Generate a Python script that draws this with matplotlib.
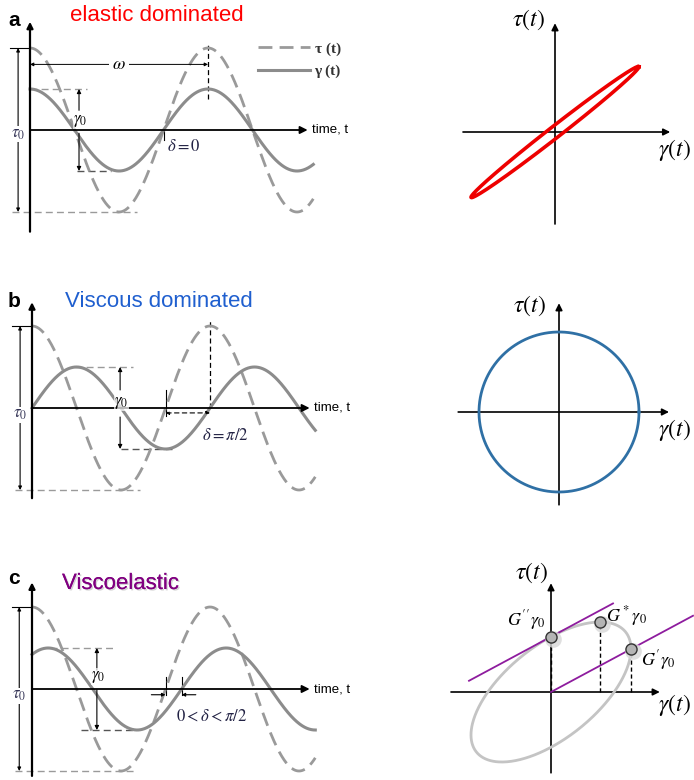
import numpy as np
import matplotlib
matplotlib.use('Agg')
import matplotlib.pyplot as plt
import matplotlib.patheffects as pe

plt.rcParams['mathtext.fontset'] = 'stix'
plt.rcParams['font.family'] = ['Liberation Sans', 'DejaVu Sans']

W, H = 694, 780
fig = plt.figure(figsize=(W / 100, H / 100), dpi=100)

# ---------------- data ----------------
panel_letters = ['a', 'b', 'c']
panel_titles = ['elastic dominated', 'Viscous dominated', 'Viscoelastic']
title_colors = ['#ff0000', '#1f5fcf', '#800080']
tau0 = 1.0            # stress amplitude
gamma0 = 0.5          # strain amplitude
phase_lag = [0.0, np.pi / 2, 0.57]       # delta used in the time traces
delta_labels = [r'$\delta = 0$', r'$\delta = \pi/2$', r'$0 < \delta < \pi/2$']
t_end = 10.0
series_labels = ['τ (t)', 'γ (t)']

loop_gamma_amp = [1.05, 1.0, 1.0]
loop_tau_amp = [0.82, 1.0, 0.875]
loop_delta = [0.11, np.pi / 2, 0.91]
loop_colors = ['#ee0000', '#2f70a5', '#c4c4c4']
modulus_labels = [r"$G''\gamma_0$", r"$G^*\gamma_0$", r"$G'\gamma_0$"]

# ---------------- layout helpers ----------------
SX, SY = 28.33, 82.0   # px per unit (time, amplitude) in the left panels
RS = 80.0              # px per unit in the right panels


def add_panel(box, origin, sx, sy):
    x0, y0, x1, y1 = box
    ax = fig.add_axes([x0 / W, 1 - y1 / H, (x1 - x0) / W, (y1 - y0) / H])
    ox, oy = origin
    ax.set_xlim((x0 - ox) / sx, (x1 - ox) / sx)
    ax.set_ylim((oy - y1) / sy, (oy - y0) / sy)
    ax.axis('off')
    return ax


def arrow(ax, start, end, style='-|>', lw=1.5, ms=10, ls='-', color='k'):
    ax.annotate('', xy=end, xytext=start,
                arrowprops=dict(arrowstyle=style, lw=lw, color=color, linestyle=ls,
                                shrinkA=0, shrinkB=0, mutation_scale=ms))


left_layout = [
    dict(box=(0, 0, 350, 250), origin=(30, 130), yax=(-1.24, 1.32), tau_t=-0.42, tau_lbl=-0.05,
         bot_dash=(-0.64, 3.78), g_t=1.73, g_top=(0.0, 2.0), g_bot=(1.66, 2.86),
         g_up=0.24, g_lbl=0.11, g_low=-0.04, d_lbl=(4.85, -0.19), d_ha='left'),
    dict(box=(0, 280, 350, 520), origin=(32, 408), yax=(-1.10, 1.29), tau_t=-0.42, tau_lbl=-0.085,
         bot_dash=(-0.6, 3.81), g_t=3.11, g_top=(1.52, 3.57), g_bot=(3.14, 4.94),
         g_up=0.22, g_lbl=0.06, g_low=-0.11, d_lbl=(6.81, -0.33), d_ha='center'),
    dict(box=(0, 560, 350, 780), origin=(32, 689), yax=(-1.06, 1.30), tau_t=-0.45, tau_lbl=-0.085,
         bot_dash=(-0.6, 3.71), g_t=2.29, g_top=(0.64, 2.97), g_bot=(1.73, 3.6),
         g_up=0.23, g_lbl=0.15, g_low=-0.01, d_lbl=(6.35, -0.32), d_ha='center'),
]
letter_pos = [(8, 26), (8, 307), (8, 584)]
title_pos = [(70, 21), (65, 307), (62, 589)]

serif = ['Liberation Serif', 'DejaVu Serif']
gray_solid = '#8c8c8c'
gray_dash = '#9a9a9a'

for i in range(3):
    L = left_layout[i]
    ax = add_panel(L['box'], L['origin'], SX, SY)
    t = np.linspace(0, t_end, 600)
    stress = tau0 * np.cos(t)
    strain = gamma0 * np.cos(t - phase_lag[i])
    l1, = ax.plot(t, stress, color=gray_dash, lw=2.0, dashes=(5, 2.6), zorder=3,
                  label=series_labels[0])
    l2, = ax.plot(t, strain, color=gray_solid, lw=2.2, zorder=3, label=series_labels[1])

    # axes
    arrow(ax, (0, L['yax'][0]), (0, L['yax'][1]), lw=1.6, ms=9)
    arrow(ax, (0, 0), (9.8, 0), lw=1.3, ms=11)
    ax.text(9.95, 0, 'time, t', fontsize=9.5, va='center', ha='left')

    # tau0 annotation
    arrow(ax, (L['tau_t'], -tau0), (L['tau_t'], tau0), style='<|-|>', lw=0.8, ms=5)
    ax.plot([-0.72, 0], [tau0, tau0], color='k', lw=0.8)
    ax.plot(list(L['bot_dash']), [-tau0, -tau0], color=gray_dash, lw=1.0, dashes=(5, 3))
    ax.text(L['tau_t'], L['tau_lbl'], r'$\tau_0$', fontsize=12, ha='center', va='center',
            color='#333355', bbox=dict(fc='white', ec='none', pad=0.5), zorder=5)

    # gamma0 annotation
    gt = L['g_t']
    ax.plot(list(L['g_top']), [gamma0, gamma0], color=gray_dash, lw=1.0, dashes=(5, 3))
    ax.plot(list(L['g_bot']), [-gamma0, -gamma0], color='#555555', lw=1.0, dashes=(5, 3))
    arrow(ax, (gt, L['g_up']), (gt, gamma0), lw=0.8, ms=6)
    arrow(ax, (gt, L['g_low']), (gt, -gamma0), lw=0.8, ms=6)
    ax.text(gt + 0.05, L['g_lbl'], r'$\gamma_0$', fontsize=12, ha='center', va='center',
            bbox=dict(fc='white', ec='none', pad=0.2, alpha=0.7), zorder=5)

    # delta annotation
    ax.text(L['d_lbl'][0], L['d_lbl'][1], delta_labels[i], fontsize=12, ha=L['d_ha'],
            va='center', color='#222244')

    if i == 0:
        ax.plot([2 * np.pi, 2 * np.pi], [0.38, 1.06], color='k', lw=0.9, dashes=(4, 2.5))
        arrow(ax, (0, 0.80), (2 * np.pi, 0.80), style='<|-|>', lw=0.7, ms=5)
        ax.text(np.pi, 0.80, r'$\omega$', fontsize=13, ha='center', va='center',
                bbox=dict(fc='white', ec='none', pad=2), zorder=5)
        ax.plot([1.5 * np.pi, 1.5 * np.pi], [0, -0.12], color='k', lw=0.8)
        leg = ax.legend(handles=[l1, l2], loc='upper left', frameon=False, fontsize=11,
                        handlelength=3.4, handletextpad=0.3, labelspacing=0.55,
                        borderpad=0, borderaxespad=0,
                        bbox_to_anchor=(258 / W, 1 - 42 / H), bbox_transform=fig.transFigure)
        for txt in leg.get_texts():
            txt.set_family(serif)
            txt.set_fontweight('bold')
            txt.set_color('#333333')
    elif i == 1:
        ax.plot([2 * np.pi, 2 * np.pi], [0, 1.07], color='k', lw=0.9, dashes=(4, 2.5))
        ax.plot([1.5 * np.pi, 1.5 * np.pi], [0.22, -0.10], color='k', lw=0.8)
        arrow(ax, (1.5 * np.pi, -0.06), (2 * np.pi, -0.06), style='<|-|>', lw=0.8, ms=5,
              ls=(0, (4, 3)))
    else:
        t1 = 1.5 * np.pi
        t2 = 1.5 * np.pi + phase_lag[i]
        ax.plot([t1, t1], [0.15, -0.07], color='k', lw=0.8)
        ax.plot([t2, t2], [0.15, -0.07], color='k', lw=0.8)
        arrow(ax, (t1 - 0.5, -0.07), (t1, -0.07), lw=0.8, ms=5)
        arrow(ax, (t2 + 0.5, -0.07), (t2, -0.07), lw=0.8, ms=5)

    fig.text(letter_pos[i][0] / W, 1 - letter_pos[i][1] / H, panel_letters[i],
             fontsize=15, fontweight='bold', va='baseline', ha='left')
    kw = {}
    if i == 2:
        kw['path_effects'] = [pe.withSimplePatchShadow(offset=(1.0, -1.0),
                                                       shadow_rgbFace='#aaaaaa', alpha=0.5),
                              pe.Normal()]
    fig.text(title_pos[i][0] / W, 1 - title_pos[i][1] / H, panel_titles[i],
             fontsize=16, color=title_colors[i], va='baseline', ha='left', **kw)

# ---------------- right panels (Lissajous loops) ----------------
right_layout = [
    dict(box=(440, 0, 694, 250), origin=(555, 132), xax=(-1.15, 1.44), yax=(-1.15, 1.36),
         tau_lbl=(-0.33, 1.40), gam_lbl=(1.49, -0.225)),
    dict(box=(440, 280, 694, 520), origin=(559, 412), xax=(-1.26, 1.375), yax=(-1.16, 1.36),
         tau_lbl=(-0.375, 1.325), gam_lbl=(1.44, -0.225)),
    dict(box=(440, 560, 694, 780), origin=(551, 692), xax=(-1.25, 1.36), yax=(-1.01, 1.36),
         tau_lbl=(-0.25, 1.49), gam_lbl=(1.54, -0.16)),
]

for i in range(3):
    R = right_layout[i]
    ax = add_panel(R['box'], R['origin'], RS, RS)
    arrow(ax, (R['xax'][0], 0), (R['xax'][1], 0), lw=1.2, ms=10)
    arrow(ax, (0, R['yax'][0]), (0, R['yax'][1]), lw=1.2, ms=10)
    ax.text(*R['tau_lbl'], r'$\tau(t)$', fontsize=17, ha='center', va='center')
    ax.text(*R['gam_lbl'], r'$\gamma(t)$', fontsize=17, ha='center', va='center')

    A, B, d = loop_gamma_amp[i], loop_tau_amp[i], loop_delta[i]
    th = np.linspace(0, 2 * np.pi, 500)
    lw = 2.6 if i == 0 else 2.0
    ax.plot(A * np.cos(th), B * np.cos(th + d), color=loop_colors[i], lw=lw, zorder=3)

    if i == 2:
        slope = B * np.cos(d) / A
        g1 = np.array([0.0, 1.775])
        ax.plot(g1, slope * g1, color='#8e1c9e', lw=1.3, zorder=4)
        g2 = np.array([-1.025, 0.775])
        ax.plot(g2, slope * g2 + B * np.sin(d), color='#8e1c9e', lw=1.3, zorder=4)
        px = [0.0, A * np.cos(d), A]
        py = [B * np.sin(d), B, B * np.cos(d)]
        ax.vlines(px, 0, py, colors='k', linestyles=(0, (3, 2)), lw=1.0, zorder=2)
        ax.plot(np.array(px) + 0.03, np.array(py) - 0.03, 'o', ms=12, color='#d8d8d8',
                alpha=0.8, zorder=4, mec='none')
        ax.plot(px, py, 'o', ms=8, mfc='#b4b4b4', mec='#333333', mew=1.0, zorder=5)
        offsets = [(-4, 12), (4, 4), (7, -8)]
        has = ['right', 'left', 'left']
        for k in range(3):
            ax.annotate(modulus_labels[k], (px[k], py[k]), xytext=offsets[k],
                        textcoords='offset points', fontsize=13, ha=has[k], va='center')

fig.savefig('out.png', dpi=100)
